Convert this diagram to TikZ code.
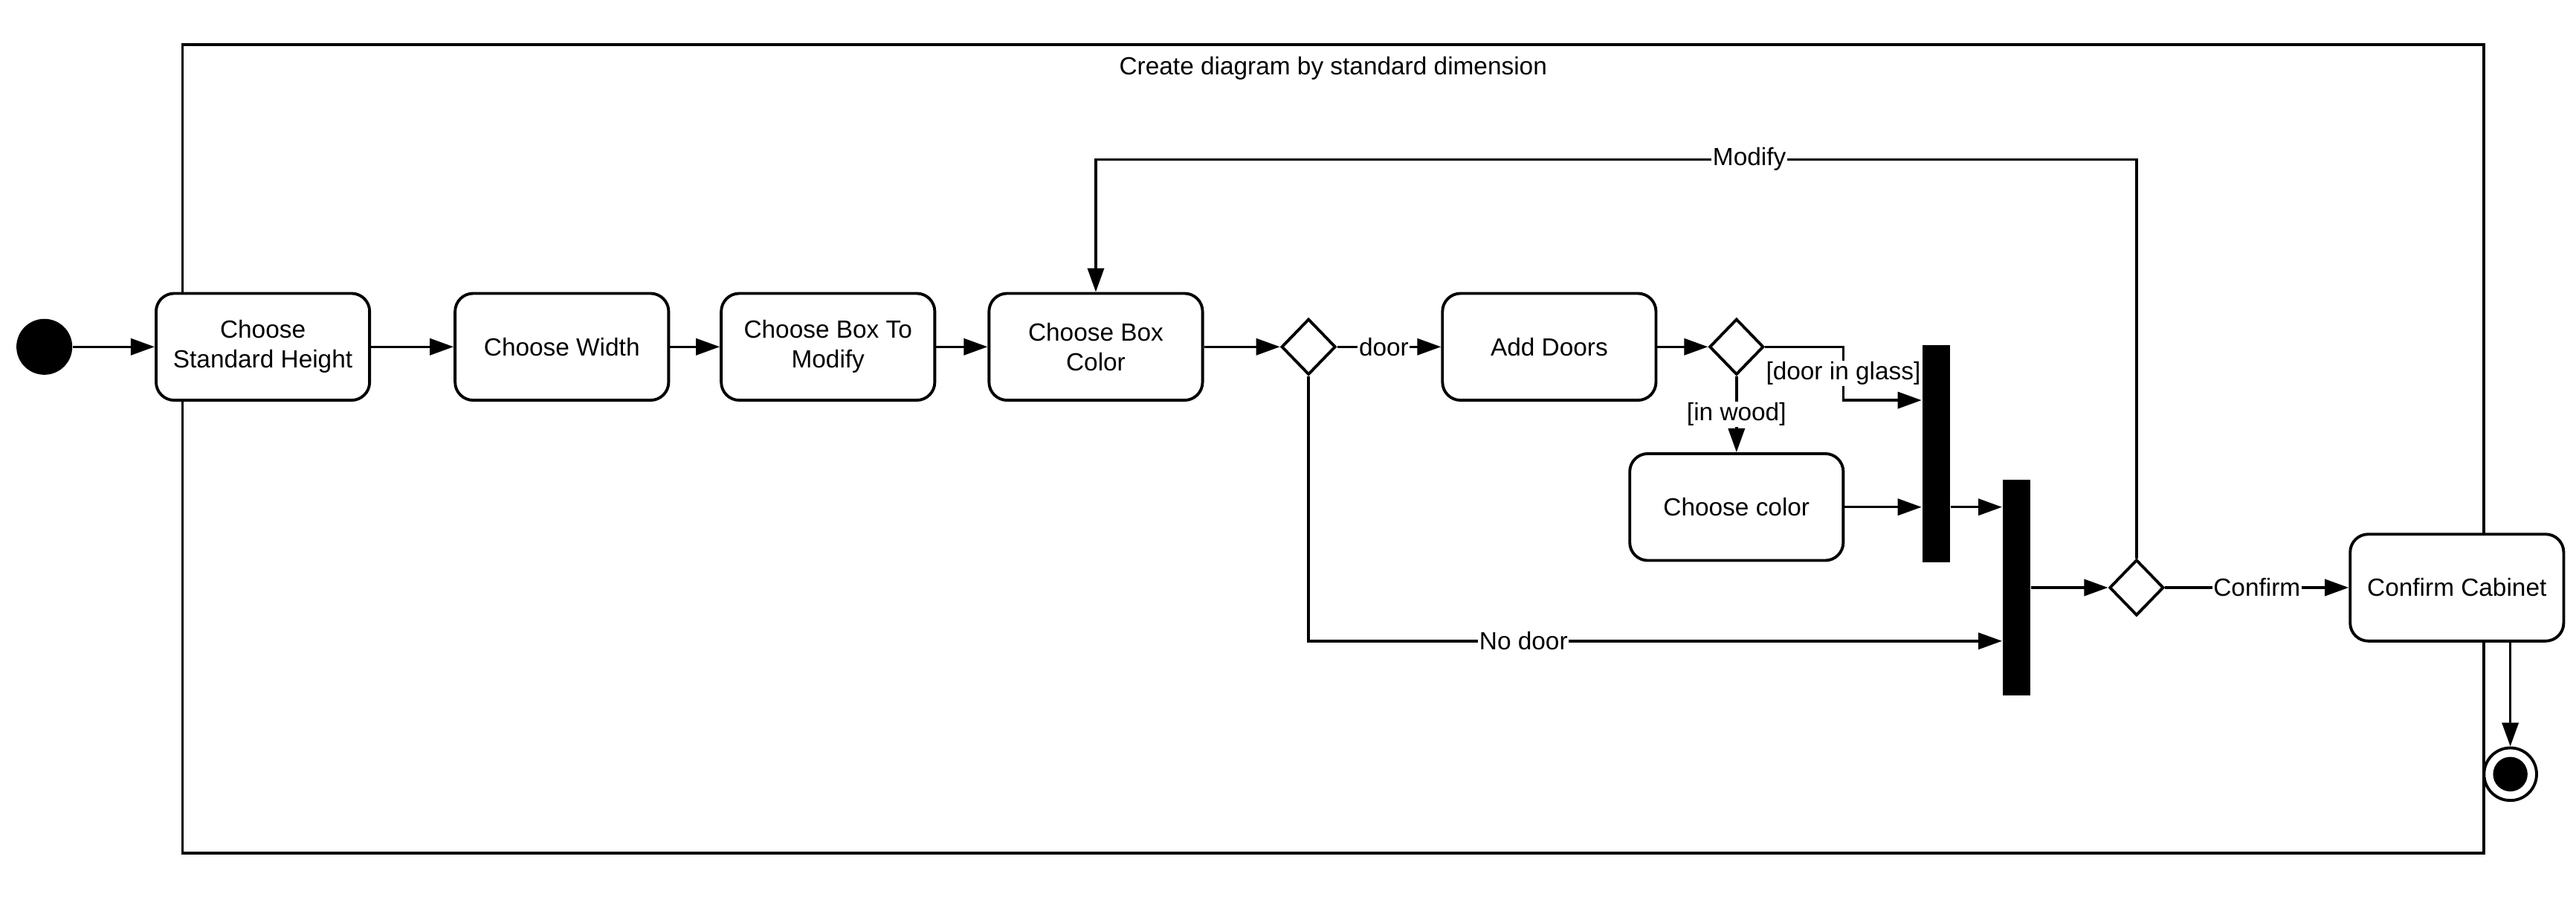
\documentclass[tikz,border=0pt]{standalone}
\usepackage{fontspec}
\setmainfont{Liberation Sans}
\usepackage{xcolor}
\usepackage{tikz}
\usetikzlibrary{positioning,arrows.meta,shapes.geometric}

\begin{document}
\begin{tikzpicture}[x=0.02cm, y=-0.02cm,
    every node/.style={font=\fontsize{8.6}{10.3}\selectfont},
    activity/.style={draw, fill=white, rounded corners=0.22cm, line width=1pt,
        minimum width=2.6cm, minimum height=1.3cm, align=center, inner sep=2pt},
    decision/.style={draw, fill=white, diamond, line width=1pt, inner sep=0pt,
        minimum width=0.66cm, minimum height=0.68cm},
    forkbar/.style={fill=black, inner sep=0pt, minimum width=0.34cm},
    flow/.style={line width=0.9pt, -{Triangle[length=0.29cm, width=0.2cm]}},
    lbl/.style={fill=white, inner sep=0.4pt}]
\useasboundingbox (0,0) rectangle (1568,545.3);

\node[draw, line width=0.9pt, minimum width=28.02cm, minimum height=9.84cm] (frame) at (811.5,273) {};
\node (title) at (811.5,41.5) {Create diagram by standard dimension};

\node[circle, fill=black, minimum size=0.68cm] (start) at (27,211) {};
\node[activity] (std) at (160,211) {Choose\\Standard Height};
\node[activity] (width) at (342,211) {Choose Width};
\node[activity] (boxmod) at (504,211) {Choose Box To\\Modify};
\node[activity] (color) at (667,211) {Choose Box\\Color};
\node[decision] (dec1) at (796.5,211) {};
\node[activity] (doors) at (943,211) {Add Doors};
\node[decision] (dec2) at (1057,211) {};
\node[activity] (ccolor) at (1057,308.5) {Choose color};
\node[forkbar, minimum height=2.64cm] (fork1) at (1178.5,276) {};
\node[forkbar, minimum height=2.62cm] (fork2) at (1227.5,357.5) {};
\node[decision] (dec3) at (1300.5,357.5) {};
\node[activity] (confirm) at (1495.5,357.5) {Confirm Cabinet};
\node[draw, circle, fill=white, line width=1pt, minimum size=0.64cm] (end) at (1528,471) {};
\node[circle, fill=black, minimum size=0.42cm] (endDot) at (end) {};

\coordinate (glass) at (1122,243.5);

\draw[flow] (start) -- (std);
\draw[flow] (std) -- (width);
\draw[flow] (width) -- (boxmod);
\draw[flow] (boxmod) -- (color);
\draw[flow] (color) -- (dec1);
\draw[flow] (dec1.east) -- node[lbl, pos=0.45] {door} (doors.west);
\draw[flow] (doors) -- (dec2);
\draw[flow] (dec2.east) -| node[lbl, pos=0.75] {[door in glass]} (glass) -- (glass -| fork1.west);
\draw[flow] (dec2.south) -- node[lbl] {[in wood]} (ccolor.north);
\draw[flow] (ccolor.east) -- (ccolor.east -| fork1.west);
\draw[flow] (fork1.east |- ccolor.east) -- (fork2.west |- ccolor.east);
\draw[flow] (dec1.south) |- node[lbl, pos=0.655] {No door} (fork2.west |- 0,390);
\draw[flow] (fork2.east) -- (dec3.west);
\draw[flow] (dec3.east) -- node[lbl] {Confirm} (confirm.west);
\draw[flow] (dec3.north) |- node[lbl, pos=0.686] {Modify} (color.north |- 0,97) -- (color.north);
\draw[flow] (confirm.south -| end) -- (end.north);

\end{tikzpicture}
\end{document}
